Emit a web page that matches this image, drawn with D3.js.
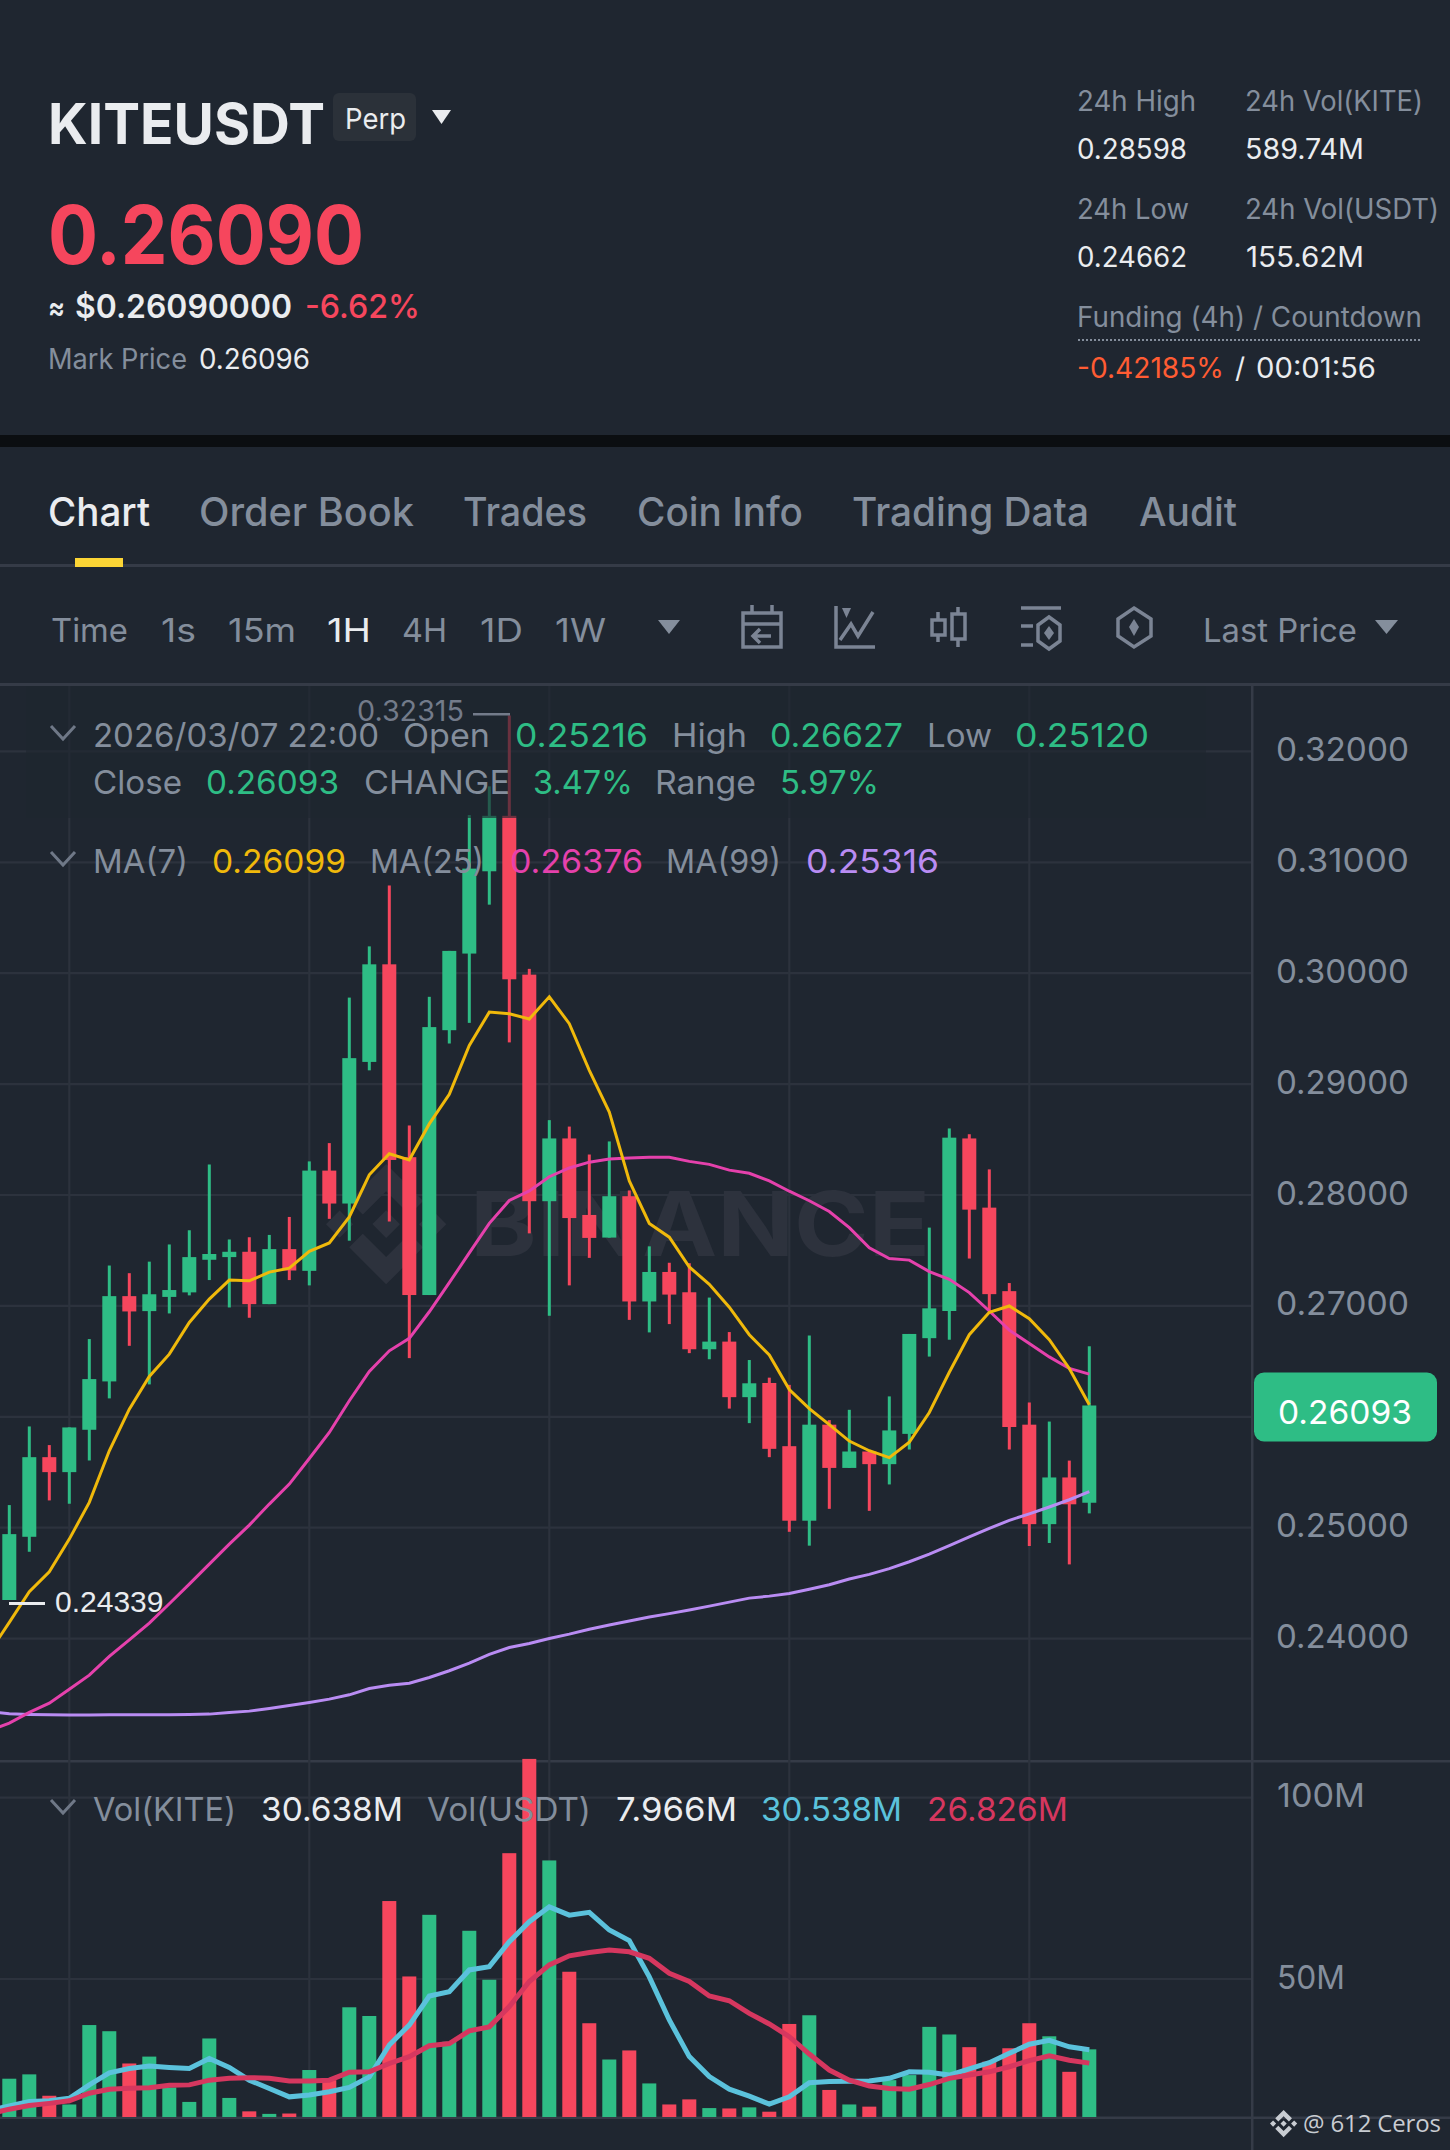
<!DOCTYPE html>
<html>
<head>
<meta charset="utf-8">
<style>
  html, body { margin: 0; padding: 0; background: #1f2630; }
  svg { display: block; }
  text { font-family: Inter, "Noto Sans", sans-serif; }
</style>
<script src="https://cdn.jsdelivr.net/npm/d3@7"></script>
</head>
<body>
<svg id="chart" width="1450" height="2150"></svg>
<script>
// hourly candles
const opens = [0.24339,0.24909,0.25627,0.25492,0.25874,0.26310,0.27079,0.26944,0.27072,0.27113,0.27407,0.27431,0.27479,0.27007,0.27503,0.27307,0.28211,0.27914,0.29191,0.30071,0.28332,0.27089,0.29477,0.30168,0.30910,0.31410,0.29978,0.27935,0.28501,0.27811,0.27607,0.27980,0.27031,0.27297,0.27114,0.26600,0.26669,0.26168,0.26296,0.25726,0.25054,0.25920,0.25530,0.25678,0.25564,0.25837,0.26700,0.26945,0.28501,0.27877,0.27124,0.25920,0.25023,0.25444,0.25216]
const highs = [0.25195,0.25904,0.25736,0.25895,0.26692,0.27355,0.27286,0.27390,0.27545,0.27673,0.28266,0.27590,0.27610,0.27631,0.27793,0.28294,0.28459,0.29771,0.30233,0.30782,0.28618,0.29778,0.30192,0.31417,0.31676,0.32315,0.30030,0.28666,0.28608,0.28356,0.28474,0.28032,0.27528,0.27380,0.27376,0.27066,0.26755,0.26503,0.26344,0.26279,0.26724,0.25961,0.26054,0.25692,0.26175,0.26738,0.27697,0.28591,0.28539,0.28222,0.27197,0.26120,0.25948,0.25596,0.26627]
const lows = [0.24339,0.24774,0.25237,0.25207,0.25597,0.26157,0.26631,0.26283,0.26923,0.27086,0.27224,0.26977,0.26884,0.27007,0.27224,0.27176,0.27776,0.27579,0.29115,0.27752,0.26520,0.27089,0.29357,0.29543,0.30609,0.29367,0.27645,0.26902,0.27176,0.27424,0.27607,0.26865,0.26752,0.26827,0.26565,0.26510,0.26065,0.25934,0.25627,0.24954,0.24829,0.25161,0.25530,0.25143,0.25381,0.25696,0.26534,0.26686,0.27418,0.26945,0.25696,0.24826,0.24853,0.24660,0.25120]
const closes = [0.24933,0.25627,0.25492,0.25895,0.26331,0.27079,0.26941,0.27096,0.27134,0.27431,0.27459,0.27479,0.27007,0.27503,0.27310,0.28211,0.27914,0.29225,0.30071,0.28307,0.27089,0.29505,0.30192,0.30934,0.31410,0.29936,0.27935,0.28501,0.27783,0.27604,0.27980,0.27031,0.27297,0.27093,0.26600,0.26669,0.26168,0.26293,0.25702,0.25054,0.25920,0.25530,0.25678,0.25564,0.25868,0.26738,0.26969,0.28508,0.27859,0.27097,0.25899,0.25023,0.25444,0.25202,0.26093]
const volumes = [22.5,23.7,17.8,15.4,37.3,35.6,26.7,28.6,20.1,16.1,33.6,17.2,13.5,12.8,12.9,24.9,22.1,42.2,39.8,71.5,50.7,67.7,32.7,63.3,49.8,84.7,110.7,82.7,52.0,37.8,27.8,30.3,21.2,15.4,16.8,14.4,14.3,14.6,13.4,37.6,40.0,19.4,15.4,14.8,22.1,23.5,36.8,34.7,31.2,27.2,30.9,37.8,34.2,24.4,30.6]

// averages start one candle before the first visible one
const ma7 = [0.23866,0.24137,0.24413,0.24593,0.24888,0.25219,0.25685,0.26060,0.26355,0.26556,0.26842,0.27052,0.27224,0.27217,0.27296,0.27331,0.27483,0.27559,0.27793,0.28173,0.28363,0.28308,0.28632,0.28898,0.29339,0.29640,0.29626,0.29578,0.29778,0.29536,0.29115,0.28739,0.28118,0.27735,0.27611,0.27342,0.27186,0.26979,0.26731,0.26548,0.26237,0.26065,0.25920,0.25772,0.25685,0.25623,0.25761,0.26030,0.26393,0.26731,0.26934,0.26990,0.26876,0.26686,0.26427,0.26099]
const ma25 = [0.23160,0.23229,0.23325,0.23409,0.23535,0.23661,0.23830,0.23980,0.24130,0.24305,0.24482,0.24663,0.24843,0.25014,0.25204,0.25384,0.25615,0.25850,0.26136,0.26400,0.26586,0.26698,0.26938,0.27200,0.27469,0.27735,0.27942,0.28028,0.28156,0.28235,0.28287,0.28315,0.28325,0.28332,0.28332,0.28294,0.28267,0.28215,0.28187,0.28118,0.28025,0.27939,0.27842,0.27697,0.27514,0.27418,0.27404,0.27300,0.27231,0.27111,0.26945,0.26772,0.26651,0.26531,0.26427,0.26376]
const ma99 = [0.23331,0.23313,0.23307,0.23304,0.23301,0.23301,0.23304,0.23304,0.23304,0.23304,0.23307,0.23310,0.23325,0.23337,0.23361,0.23388,0.23415,0.23445,0.23484,0.23541,0.23571,0.23589,0.23640,0.23701,0.23770,0.23848,0.23911,0.23947,0.23992,0.24031,0.24076,0.24113,0.24149,0.24185,0.24216,0.24248,0.24284,0.24320,0.24356,0.24374,0.24398,0.24436,0.24477,0.24529,0.24570,0.24622,0.24684,0.24753,0.24829,0.24909,0.24985,0.25057,0.25116,0.25178,0.25243,0.25316]
const volFast = [13.7,15.0,16.2,16.4,17.1,20.8,24.1,25.3,26.0,25.6,25.3,28.1,25.6,22.1,19.8,17.5,18.0,18.9,20.1,23.0,31.8,37.3,45.3,46.5,52.5,53.4,60.3,65.8,69.9,67.6,68.4,63.5,60.6,50.6,38.7,28.6,23.1,19.6,17.7,15.5,17.5,21.4,21.7,21.8,21.9,22.6,24.4,24.3,23.5,25.2,26.9,29.5,32.0,33.1,31.3,30.5]
const volSlow = [12.8,14.1,15.1,15.7,16.4,18.5,19.6,19.9,20.0,20.7,20.8,22.1,22.6,22.8,22.6,21.9,21.9,22.1,24.3,24.4,26.7,28.6,31.6,32.2,35.7,36.8,42.4,49.3,53.9,56.4,57.3,58.0,57.5,55.7,51.6,49.3,45.3,44.0,40.5,37.6,34.1,29.3,24.9,22.1,20.5,19.8,19.6,20.9,22.6,23.5,24.4,25.8,27.5,28.8,27.6,26.8]

const priceTicks = [0.32,0.31,0.30,0.29,0.28,0.27,0.26,0.25,0.24]
const volTicks = [100,50]
const timeGrid = [3,15,27,39,51]
const volFloor = 11.8  // the pane cuts the volume axis off about here

const BG = '#1f2630', GREEN = '#2ebd85', RED = '#f6465d', GREY = '#848e9c', WHITE = '#eaecef', GRID = '#2c323d', LINE = '#353b47'

const svg = d3.select('#chart')
const x = d3.scaleLinear().domain([0, 54]).range([9.3, 1089.3])
const y = d3.scaleLinear().domain([0.24, 0.32]).range([1637.6, 750.4])
const yVol = d3.scaleLinear().domain([50, 100]).range([1979, 1797.7])

svg.append('rect').attr('width', 1450).attr('height', 2150).attr('fill', BG)
svg.append('rect').attr('y', 435).attr('width', 1450).attr('height', 12).attr('fill', '#0b0e11')

let defs = svg.append('defs')
defs.append('clipPath').attr('id', 'pricePane').append('rect').attr('y', 686).attr('width', 1252).attr('height', 1075)
defs.append('clipPath').attr('id', 'volPane').append('rect').attr('y', 1755).attr('width', 1252).attr('height', 362)

const label = (str, px, py, size, fill, w, weight) => {
    let t = svg.append('text').attr('x', px).attr('y', py).attr('font-size', size).attr('fill', fill).text(str)
    if (weight) t.attr('font-weight', weight)
    if (w) t.attr('textLength', w).attr('lengthAdjust', 'spacingAndGlyphs')
    return t
}
const tri = (x0, x1, y0, y1, fill) => svg.append('path')
    .attr('d', `M${x0},${y0}L${x1},${y0}L${(x0 + x1) / 2},${y1}Z`).attr('fill', fill)

// header
label('KITEUSDT', 48, 144, 57, WHITE, 277, 700)
svg.append('rect').attr('x', 333).attr('y', 93).attr('width', 83).attr('height', 48).attr('rx', 6).attr('fill', '#2b3139')
label('Perp', 345, 129, 29, WHITE, 61)
tri(432, 451, 110, 124, WHITE)
label('0.26090', 48, 264, 81, RED, 316, 700)
label('≈', 48, 318, 30, WHITE, 17, 600)
label('$0.26090000', 75, 318, 33, WHITE, 217, 600)
label('-6.62%', 305, 318, 33, RED, 115, 500)
label('Mark Price', 48, 369, 28, GREY, 139)
label('0.26096', 199, 369, 28, WHITE, 111)

label('24h High', 1077, 111, 28, GREY, 119)
label('24h Vol(KITE)', 1245, 111, 28, GREY, 178)
label('0.28598', 1077, 159, 28, WHITE, 110)
label('589.74M', 1245, 159, 28, WHITE, 119)
label('24h Low', 1077, 219, 28, GREY, 112)
label('24h Vol(USDT)', 1245, 219, 28, GREY, 194)
label('0.24662', 1077, 267, 28, WHITE, 110)
label('155.62M', 1246, 267, 28, WHITE, 118)
label('Funding (4h) / Countdown', 1077, 327, 28, GREY, 345)
svg.append('line').attr('x1', 1078).attr('x2', 1422).attr('y1', 340).attr('y2', 340)
    .attr('stroke', GREY).attr('stroke-width', 2).attr('stroke-dasharray', '2 2')
label('-0.42185%', 1077, 378, 28, '#ff5c33', 147)
label('/', 1235, 378, 28, WHITE)
label('00:01:56', 1256, 378, 28, WHITE, 120)

// tabs + toolbar
const tabs = ['Chart', 'Order Book', 'Trades', 'Coin Info', 'Trading Data', 'Audit']
const tabX = [48, 199, 463, 637, 852, 1139]
const tabW = [102, 215, 124, 166, 237, 98]
tabs.forEach((d, i) => label(d, tabX[i], 526, 39, i ? GREY : WHITE, tabW[i], 500))
svg.append('rect').attr('y', 564).attr('width', 1450).attr('height', 3).attr('fill', LINE)
svg.append('rect').attr('x', 75).attr('y', 558).attr('width', 48).attr('height', 9).attr('fill', '#fcd535')

const times = ['Time', '1s', '15m', '1H', '4H', '1D', '1W']
const timeX = [51, 161, 228, 327, 402, 480, 555]
const timeW = [77, 35, 68, 44, 45, 43, 51]
times.forEach((d, i) => label(d, timeX[i], 642, 33, d == '1H' ? WHITE : GREY, timeW[i]))
tri(658, 680, 620, 634, GREY)
label('Last Price', 1203, 642, 33, GREY, 154)
tri(1375, 1398, 620, 634, GREY)

const icon = svg.append('g').attr('fill', 'none').attr('stroke', '#7b8494').attr('stroke-width', 3.5)
icon.append('path').attr('d', 'M752,605V612M772,605V612M743,613H781V647H743ZM743,624H781M771,636H753M760,629L753,636L760,643')
icon.append('path').attr('d', 'M836,606V647H875M840,640L851,624L858,636L873,612')
icon.append('path').attr('fill', '#7b8494').attr('stroke', 'none').attr('d', 'M842,608H851L846.5,618Z')
icon.append('path').attr('d', 'M938,612V620M938,635V642M932,620H945V635H932ZM958,607V614M958,639V647M952,614H965V639H952Z')
icon.append('path').attr('d', 'M1021,608H1061M1021,626H1033M1021,645H1033M1049,617L1060,625V641L1049,649L1038,641V625Z')
icon.append('path').attr('fill', '#7b8494').attr('stroke', 'none').attr('d', 'M1049,626L1054,633L1049,640L1044,633Z')
icon.append('path').attr('d', 'M1134,608L1151,619V636L1134,647L1118,636V619Z')
icon.append('path').attr('fill', '#7b8494').attr('stroke', 'none').attr('d', 'M1134,619L1139,627L1134,636L1129,627Z')

// pane frames
svg.append('rect').attr('y', 683).attr('width', 1450).attr('height', 3).attr('fill', LINE)
svg.append('rect').attr('y', 1760).attr('width', 1450).attr('height', 2.5).attr('fill', LINE)
svg.append('rect').attr('y', 2116.5).attr('width', 1450).attr('height', 2.5).attr('fill', LINE)
svg.append('rect').attr('x', 1251).attr('y', 686).attr('width', 2.5).attr('height', 1464).attr('fill', LINE)

// grid
const grid = svg.append('g').attr('stroke', GRID).attr('stroke-width', 2.2)
grid.selectAll('.gp').data(priceTicks).enter().append('line')
    .attr('x1', 0).attr('x2', 1251).attr('y1', d => y(d) + 1).attr('y2', d => y(d) + 1)
grid.selectAll('.gv').data(volTicks).enter().append('line')
    .attr('x1', 0).attr('x2', 1251).attr('y1', d => yVol(d)).attr('y2', d => yVol(d))
grid.selectAll('.gt').data(timeGrid).enter().append('line')
    .attr('x1', d => x(d)).attr('x2', d => x(d)).attr('y1', 686).attr('y2', 2116)

// watermark
const logo = 'M38.73 53.2l24.59-24.58 24.6 24.6 14.3-14.31L63.32 0l-38.9 38.9 14.31 14.3zM0 63.31l14.3-14.31 14.31 14.31L14.3 77.61 0 63.31zM38.73 73.41l24.59 24.59 24.6-24.6 14.31 14.29-38.9 38.91-38.91-38.88v-.03l14.31-14.28zM98.01 63.31l14.3-14.31 14.31 14.31-14.31 14.3-14.3-14.3zM77.83 63.3L63.32 48.78 52.59 59.51l-1.24 1.23-2.54 2.54 14.51 14.5 14.51-14.47z'
svg.append('path').attr('d', logo).attr('fill', '#2d323d').attr('transform', 'translate(326,1164) scale(0.95)')
label('BINANCE', 470, 1256, 90, '#2d323d', 460, 700)

// candles
const candles = svg.append('g').attr('clip-path', 'url(#pricePane)')
const bar = candles.selectAll('.candle').data(opens).enter().append('g').attr('class', 'candle')
    .attr('fill', (d, i) => closes[i] >= d ? GREEN : RED)
bar.append('rect').attr('x', (d, i) => x(i) - 1.5).attr('width', 3)
    .attr('y', (d, i) => y(highs[i])).attr('height', (d, i) => y(lows[i]) - y(highs[i]))
bar.append('rect').attr('x', (d, i) => x(i) - 7).attr('width', 14)
    .attr('y', (d, i) => y(Math.max(d, closes[i])))
    .attr('height', (d, i) => Math.max(2, Math.abs(y(d) - y(closes[i]))))

const priceLine = d3.line().x((d, i) => x(i - 1)).y(d => y(d))
const volLine = d3.line().x((d, i) => x(i - 1)).y(d => yVol(d))
;[[ma99, '#b98cf3'], [ma25, '#e541ac'], [ma7, '#f0b90b']].forEach(s => {
    candles.append('path').attr('d', priceLine(s[0])).attr('fill', 'none').attr('stroke', s[1]).attr('stroke-width', 3)
})

// high / low marks
svg.append('rect').attr('x', 9).attr('y', y(0.24339) + 2).attr('width', 36).attr('height', 3).attr('fill', WHITE)
svg.append('text').attr('x', 55).attr('y', 1612).attr('font-size', 30).attr('fill', WHITE)
    .style('font-family', '"Liberation Sans"').text('0.24339')

// the legend block dims what runs behind it
svg.append('rect').attr('x', 26).attr('y', 686).attr('width', 1180).attr('height', 132).attr('fill', BG).attr('opacity', 0.65)

svg.append('rect').attr('x', 473).attr('y', 713).attr('width', 37).attr('height', 2.5).attr('fill', '#737b8a')
label('0.32315', 357, 721, 29, '#737b8a', 107)

const chevron = (cy) => svg.append('path').attr('d', `M51,${cy - 6}L63,${cy + 7}L75,${cy - 6}`)
    .attr('fill', 'none').attr('stroke', '#6f7887').attr('stroke-width', 3)

chevron(732)
label('2026/03/07 22:00', 93, 747, 33, GREY, 286)
label('Open', 403, 747, 33, GREY, 87)
label('0.25216', 515, 747, 33, GREEN, 133)
label('High', 672, 747, 33, GREY, 75)
label('0.26627', 770, 747, 33, GREEN, 133)
label('Low', 927, 747, 33, GREY, 65)
label('0.25120', 1015, 747, 33, GREEN, 134)
label('Close', 93, 794, 33, GREY, 89)
label('0.26093', 206, 794, 33, GREEN, 133)
label('CHANGE', 364, 794, 33, GREY, 146)
label('3.47%', 533, 794, 33, GREEN, 100)
label('Range', 655, 794, 33, GREY, 101)
label('5.97%', 780, 794, 33, GREEN, 99)

chevron(858)
label('MA(7)', 93, 873, 33, GREY, 95)
label('0.26099', 212, 873, 33, '#f0b90b', 134)
label('MA(25)', 370, 873, 33, GREY, 114)
label('0.26376', 510, 873, 33, '#e541ac', 133)
label('MA(99)', 666, 873, 33, GREY, 115)
label('0.25316', 806, 873, 33, '#b98cf3', 133)

// volume
const vols = svg.append('g').attr('clip-path', 'url(#volPane)')
vols.selectAll('.vol').data(volumes).enter().append('rect').attr('class', 'vol')
    .attr('x', (d, i) => x(i) - 7).attr('width', 14)
    .attr('y', d => yVol(d)).attr('height', d => yVol(volFloor) - yVol(d))
    .attr('fill', (d, i) => closes[i] >= opens[i] ? GREEN : RED)
;[[volFast, '#5bc2dc'], [volSlow, '#d6375f']].forEach(s => {
    vols.append('path').attr('d', volLine(s[0])).attr('fill', 'none').attr('stroke', s[1]).attr('stroke-width', 5)
})

chevron(1806)
label('Vol(KITE)', 93, 1821, 33, GREY, 143)
label('30.638M', 261, 1821, 33, WHITE, 142)
label('Vol(USDT)', 427, 1821, 33, GREY, 164)
label('7.966M', 616, 1821, 33, WHITE, 121)
label('30.538M', 761, 1821, 33, '#5bc2dc', 141)
label('26.826M', 927, 1821, 33, '#d6375f', 141)

// right axes
const priceAxis = d3.axisRight(y).tickValues(priceTicks).tickSize(0).tickPadding(0).tickFormat(d3.format('.5f'))
svg.append('g').attr('transform', 'translate(1276,0)').call(priceAxis)
    .call(g => g.select('.domain').remove())
    .selectAll('text').attr('fill', GREY).attr('font-size', 33).attr('dy', 10)
    .attr('textLength', 133).attr('lengthAdjust', 'spacingAndGlyphs')
const volAxis = d3.axisRight(yVol).tickValues(volTicks).tickSize(0).tickPadding(0).tickFormat(d => d + 'M')
svg.append('g').attr('transform', 'translate(1277,0)').call(volAxis)
    .call(g => g.select('.domain').remove())
    .selectAll('text').attr('fill', GREY).attr('font-size', 33).attr('dy', 9)
    .attr('textLength', d => d == 100 ? 88 : 68).attr('lengthAdjust', 'spacingAndGlyphs')
svg.selectAll('.tick text').style('font-family', 'Inter')

// last price tag
svg.append('rect').attr('x', 1254).attr('y', 1372.5).attr('width', 183).attr('height', 69).attr('rx', 10).attr('fill', GREEN)
label('0.26093', 1278, 1424, 33, '#ffffff', 134)

// credit
svg.append('path').attr('d', logo).attr('fill', '#c8ccd2').attr('transform', 'translate(1270,2110) scale(0.215)')
svg.append('text').attr('x', 1303).attr('y', 2132).attr('font-size', 24).attr('fill', '#c8ccd2')
    .style('font-family', '"Open Sans"').attr('textLength', 138).text('@ 612 Ceros')
</script>
</body>
</html>
